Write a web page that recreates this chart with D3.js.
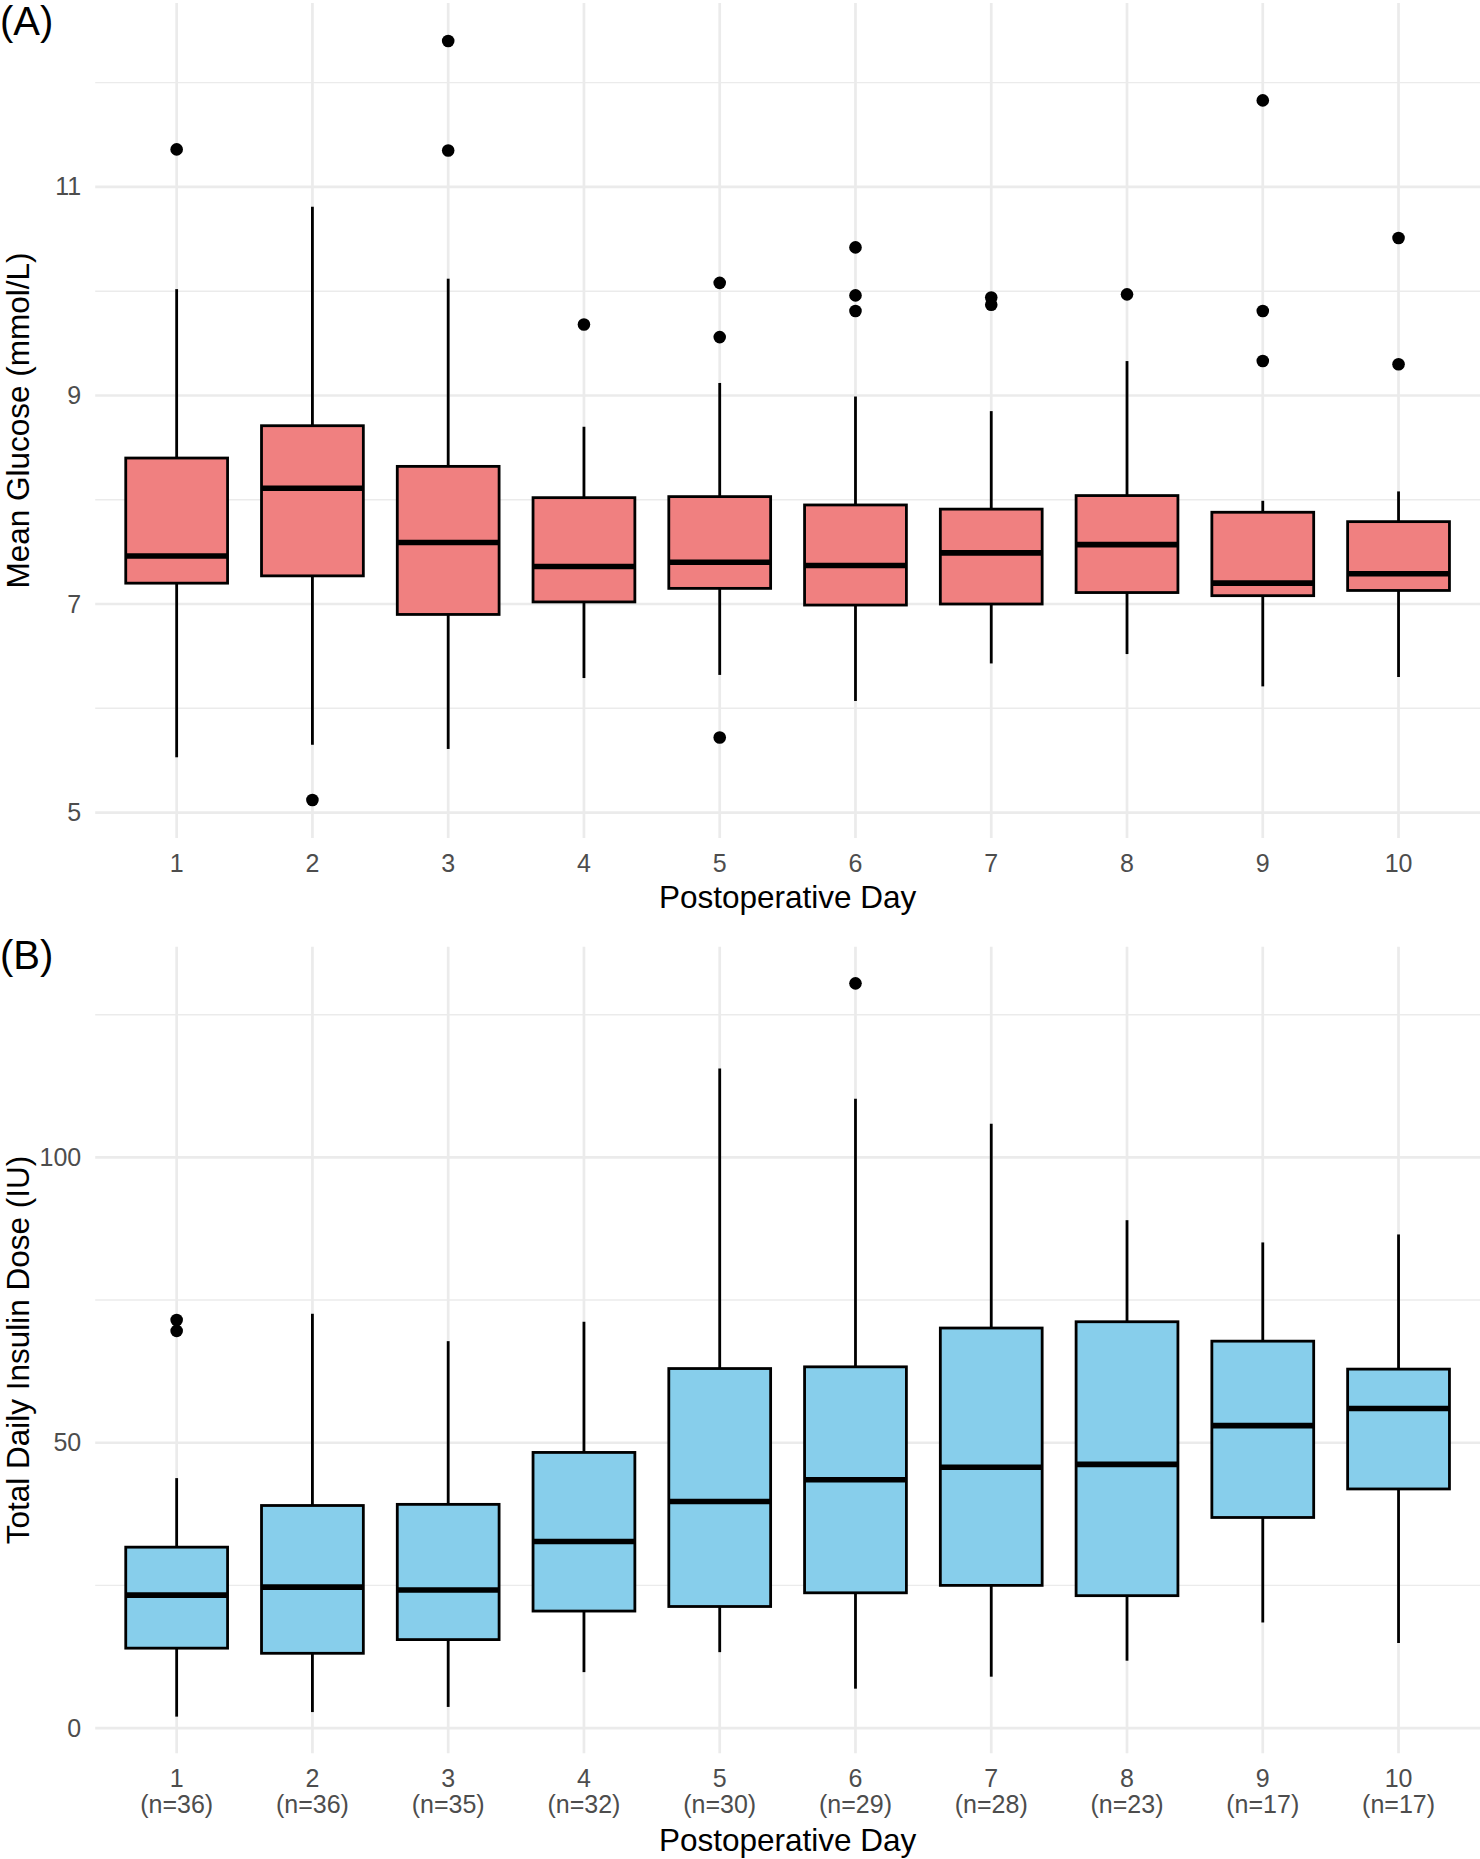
<!DOCTYPE html>
<html>
<head>
<meta charset="utf-8">
<script src="https://cdn.jsdelivr.net/npm/d3@7"></script>
<style>
    body { margin: 0; background: #fff; }
    svg { display: block; font-family: 'Liberation Sans', Arial, sans-serif; }
</style>
</head>
<body>
<svg id="chart" width="1480" height="1859"></svg>
<script>
// Categories
const days = ['1', '2', '3', '4', '5', '6', '7', '8', '9', '10'];
const patientCounts = [36, 36, 35, 32, 30, 29, 28, 23, 17, 17];

// Panel A: mean glucose (mmol/L)
const glucoseLow = [5.53, 5.65, 5.61, 6.29, 6.32, 6.07, 6.43, 6.52, 6.21, 6.30];
const glucoseQ1 = [7.20, 7.27, 6.90, 7.02, 7.15, 6.99, 7.00, 7.11, 7.08, 7.13];
const glucoseMedian = [7.46, 8.11, 7.59, 7.36, 7.40, 7.37, 7.49, 7.57, 7.20, 7.29];
const glucoseQ3 = [8.40, 8.71, 8.32, 8.02, 8.03, 7.95, 7.91, 8.04, 7.88, 7.79];
const glucoseHigh = [10.02, 10.81, 10.12, 8.70, 9.12, 8.99, 8.85, 9.33, 7.99, 8.08];
const glucoseOutliers = [
    [11.36], [5.12], [12.40, 11.35], [9.68], [10.08, 9.56, 5.72],
    [10.42, 9.96, 9.81], [9.94, 9.87], [9.97], [11.83, 9.81, 9.33], [10.51, 9.30]
];
const glucoseTicks = [5, 7, 9, 11];
const glucoseMinorTicks = [6, 8, 10, 12];

// Panel B: total daily insulin dose (IU)
const insulinLow = [2.0, 2.8, 3.7, 9.8, 13.3, 6.9, 9.0, 11.8, 18.5, 14.9];
const insulinQ1 = [14.0, 13.1, 15.5, 20.5, 21.3, 23.7, 25.0, 23.2, 36.9, 41.9];
const insulinMedian = [23.3, 24.7, 24.2, 32.7, 39.7, 43.5, 45.7, 46.2, 53.0, 56.0];
const insulinQ3 = [31.7, 39.0, 39.2, 48.3, 63.0, 63.3, 70.1, 71.2, 67.8, 62.9];
const insulinHigh = [43.8, 72.6, 67.8, 71.2, 115.6, 110.3, 105.9, 89.0, 85.1, 86.5];
const insulinOutliers = [[71.5, 69.6], [], [], [], [], [130.5], [], [], [], []];
const insulinTicks = [0, 50, 100];
const insulinMinorTicks = [25, 75, 125];

/**
 * Visual configs.
 */
const plotLeft = 95.2,
    plotRight = 1480,
    gridColor = '#ebebeb',
    tickColor = '#4d4d4d',
    tickFontSize = 25,
    titleFontSize = 31.5,
    tagFontSize = 40,
    boxStroke = 2.8,
    medianStroke = 5.6,
    pointRadius = 6.3;

const svg = d3.select('#chart');

function toStats(low, q1, median, q3, high, outliers) {
    return days.map((day, i) => ({
        day: day,
        n: patientCounts[i],
        low: low[i], q1: q1[i], median: median[i], q3: q3[i], high: high[i],
        outliers: outliers[i]
    }));
}

function drawPanel(opts) {
    const data = opts.stats;
    const g = svg.append('g').attr('class', 'panel');

    const x = d3.scaleBand()
        .domain(days)
        .range([plotLeft, plotRight])
        .paddingInner(0.25)
        .paddingOuter(0.225);

    // ggplot-like 5% expansion of the data range
    const values = data.flatMap(d => [d.low, d.high].concat(d.outliers));
    const [lo, hi] = d3.extent(values);
    const pad = (hi - lo) * 0.05;
    const y = d3.scaleLinear()
        .domain([lo - pad, hi + pad])
        .range([opts.bottom, opts.top]);

    const cx = d => x(d.day) + x.bandwidth() / 2;

    // Grid
    const grid = g.append('g').attr('class', 'grid');
    grid.selectAll('.minor').data(opts.minorTicks.filter(t => t > y.domain()[0] && t < y.domain()[1]))
        .join('line').attr('class', 'minor')
        .attr('x1', plotLeft).attr('x2', plotRight)
        .attr('y1', d => y(d)).attr('y2', d => y(d))
        .attr('stroke', gridColor).attr('stroke-width', 1.4);
    grid.selectAll('.major').data(opts.ticks)
        .join('line').attr('class', 'major')
        .attr('x1', plotLeft).attr('x2', plotRight)
        .attr('y1', d => y(d)).attr('y2', d => y(d))
        .attr('stroke', gridColor).attr('stroke-width', 2.7);
    grid.selectAll('.vert').data(days)
        .join('line').attr('class', 'vert')
        .attr('x1', d => x(d) + x.bandwidth() / 2).attr('x2', d => x(d) + x.bandwidth() / 2)
        .attr('y1', opts.top).attr('y2', opts.bottom)
        .attr('stroke', gridColor).attr('stroke-width', 2.7);

    // Axes (labels only)
    const yAxis = g.append('g')
        .attr('transform', 'translate(' + plotLeft + ',0)')
        .call(d3.axisLeft(y).tickValues(opts.ticks).tickSize(0).tickPadding(14));
    const xAxis = g.append('g')
        .attr('transform', 'translate(0,' + opts.bottom + ')')
        .call(d3.axisBottom(x).tickSize(0).tickPadding(16));
    [yAxis, xAxis].forEach(a => {
        a.select('.domain').remove();
        a.attr('font-family', null).attr('font-size', tickFontSize);
        a.selectAll('text').attr('fill', tickColor);
    });

    if (opts.showCounts) {
        xAxis.selectAll('.tick text').each(function(day) {
            const t = d3.select(this);
            const n = data.find(d => d.day === day).n;
            t.text(null);
            t.append('tspan').attr('x', 0).text(day);
            t.append('tspan').attr('x', 0).attr('dy', '1.05em').text('(n=' + n + ')');
        });
    }

    // Boxplots
    const boxes = g.append('g').attr('class', 'boxes')
        .selectAll('g').data(data).join('g');

    boxes.append('line')
        .attr('x1', cx).attr('x2', cx)
        .attr('y1', d => y(d.high)).attr('y2', d => y(d.q3))
        .attr('stroke', '#000').attr('stroke-width', boxStroke);
    boxes.append('line')
        .attr('x1', cx).attr('x2', cx)
        .attr('y1', d => y(d.q1)).attr('y2', d => y(d.low))
        .attr('stroke', '#000').attr('stroke-width', boxStroke);
    boxes.append('rect')
        .attr('x', d => x(d.day))
        .attr('width', x.bandwidth())
        .attr('y', d => y(d.q3))
        .attr('height', d => y(d.q1) - y(d.q3))
        .attr('fill', opts.fill)
        .attr('stroke', '#000').attr('stroke-width', boxStroke);
    boxes.append('line')
        .attr('x1', d => x(d.day)).attr('x2', d => x(d.day) + x.bandwidth())
        .attr('y1', d => y(d.median)).attr('y2', d => y(d.median))
        .attr('stroke', '#000').attr('stroke-width', medianStroke);
    boxes.selectAll('circle')
        .data(d => d.outliers.map(v => ({ day: d.day, v: v })))
        .join('circle')
        .attr('cx', cx)
        .attr('cy', d => y(d.v))
        .attr('r', pointRadius)
        .attr('fill', '#000');

    // Titles
    g.append('text')
        .attr('x', (plotLeft + plotRight) / 2)
        .attr('y', opts.xTitleY)
        .attr('text-anchor', 'middle')
        .attr('font-size', titleFontSize)
        .text('Postoperative Day');
    g.append('text')
        .attr('transform', 'translate(29,' + (opts.top + opts.bottom) / 2 + ') rotate(-90)')
        .attr('text-anchor', 'middle')
        .attr('font-size', titleFontSize)
        .text(opts.yTitle);
    g.append('text')
        .attr('x', 0)
        .attr('y', opts.tagY)
        .attr('font-size', tagFontSize)
        .text(opts.tag);
}

drawPanel({
    tag: '(A)', tagY: 35,
    top: 3, bottom: 838,
    stats: toStats(glucoseLow, glucoseQ1, glucoseMedian, glucoseQ3, glucoseHigh, glucoseOutliers),
    ticks: glucoseTicks, minorTicks: glucoseMinorTicks,
    fill: '#f08080',
    yTitle: 'Mean Glucose (mmol/L)',
    xTitleY: 908,
    showCounts: false
});

drawPanel({
    tag: '(B)', tagY: 969,
    top: 946.7, bottom: 1753.3,
    stats: toStats(insulinLow, insulinQ1, insulinMedian, insulinQ3, insulinHigh, insulinOutliers),
    ticks: insulinTicks, minorTicks: insulinMinorTicks,
    fill: '#87ceeb',
    yTitle: 'Total Daily Insulin Dose (IU)',
    xTitleY: 1851,
    showCounts: true
});
</script>
</body>
</html>
